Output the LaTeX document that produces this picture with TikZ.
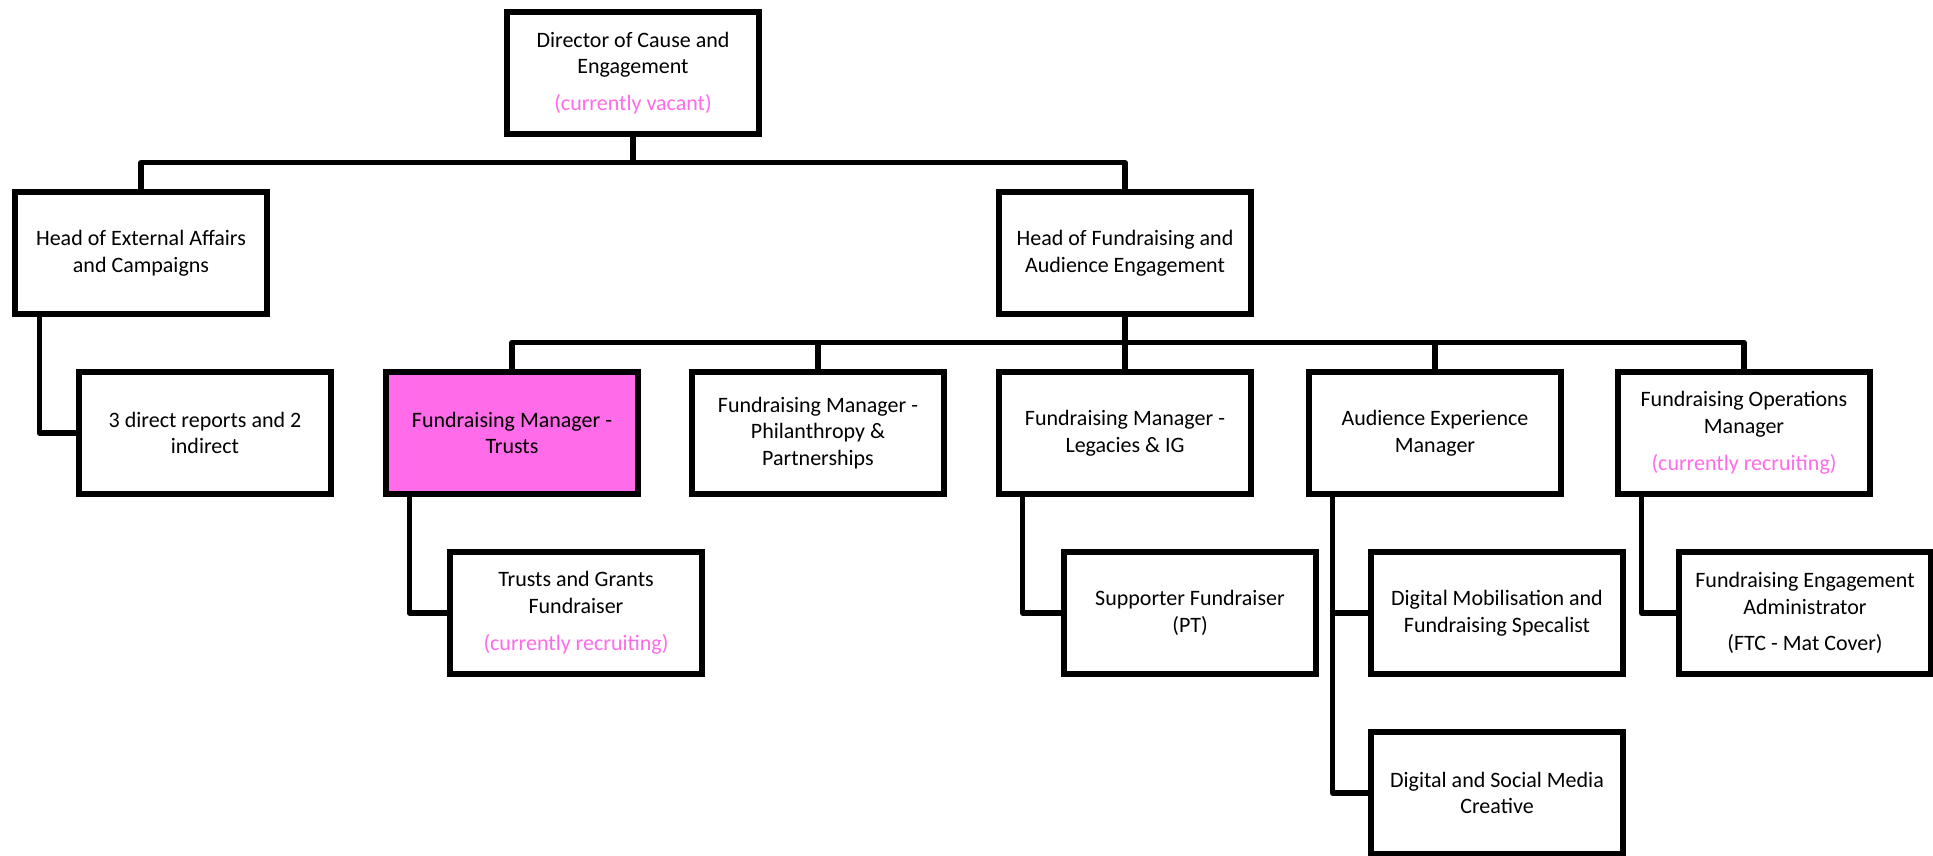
\documentclass[tikz,border=0pt]{standalone}
\usepackage{fontspec}
\setmainfont{Carlito}
\usepackage{tikz}
\usetikzlibrary{positioning}
\definecolor{vacantpink}{HTML}{FF6BE8}
\newcommand{\pinknote}[1]{\\[5pt]\textcolor{vacantpink}{#1}}

\begin{document}
\begin{tikzpicture}
    [x=0.5pt, y=-0.5pt,
    role/.style={rectangle, draw, line width=2.6pt, fill=white, minimum width=126pt,
    minimum height=61pt, inner sep=2pt, align=center, font=\fontsize{11}{13.4}\selectfont},
    highlight/.style={role, fill=vacantpink},
    link/.style={line width=2.6pt, line join=round}]
    \useasboundingbox (0,0) rectangle (1933,856);

    \node [role] (director) at (633,73) {Director of Cause and\\Engagement\pinknote{(currently vacant)}};
    \node [role] (extaffairs) at (141,253) {Head of External Affairs\\and Campaigns};
    \node [role] (fundhead) at (1125,253) {Head of Fundraising and\\Audience Engagement};
    \node [role] (direct) at (205,433) {3 direct reports and 2\\indirect};
    \node [highlight] (trusts) at (512,433) {Fundraising Manager -\\Trusts};
    \node [role] (philanthropy) at (818,433) {Fundraising Manager -\\Philanthropy \&\\Partnerships};
    \node [role] (legacies) at (1125,433) {Fundraising Manager -\\Legacies \& IG};
    \node [role] (audience) at (1435,433) {Audience Experience\\Manager};
    \node [role] (operations) at (1744,433) {Fundraising Operations\\Manager\pinknote{(currently recruiting)}};
    \node [role] (grants) at (576,613) {Trusts and Grants\\Fundraiser\pinknote{(currently recruiting)}};
    \node [role] (supporter) at (1190,613) {Supporter Fundraiser\\(PT)};
    \node [role] (digimob) at (1497,613) {Digital Mobilisation and\\Fundraising Specalist};
    \node [role] (social) at (1497,793) {Digital and Social Media\\Creative};
    \node [role] (admin) at (1805,613) {Fundraising Engagement\\Administrator\\[5pt](FTC - Mat Cover)};

    \draw [link] (director.south) -- ++(0,26) -| (extaffairs.north);
    \draw [link] (director.south) -- ++(0,26) -| (fundhead.north);
    \draw [link] (extaffairs.south west) ++(27,0) |- (direct.west);
    \foreach \m in {trusts, philanthropy, legacies, audience, operations}
        \draw [link] (fundhead.south) -- ++(0,26) -| (\m.north);
    \draw [link] (trusts.south west) ++(26,0) |- (grants.west);
    \draw [link] (legacies.south west) ++(26,0) |- (supporter.west);
    \draw [link] (audience.south west) ++(26,0) |- (digimob.west);
    \draw [link] (audience.south west) ++(26,0) |- (social.west);
    \draw [link] (operations.south west) ++(26,0) |- (admin.west);
\end{tikzpicture}
\end{document}
